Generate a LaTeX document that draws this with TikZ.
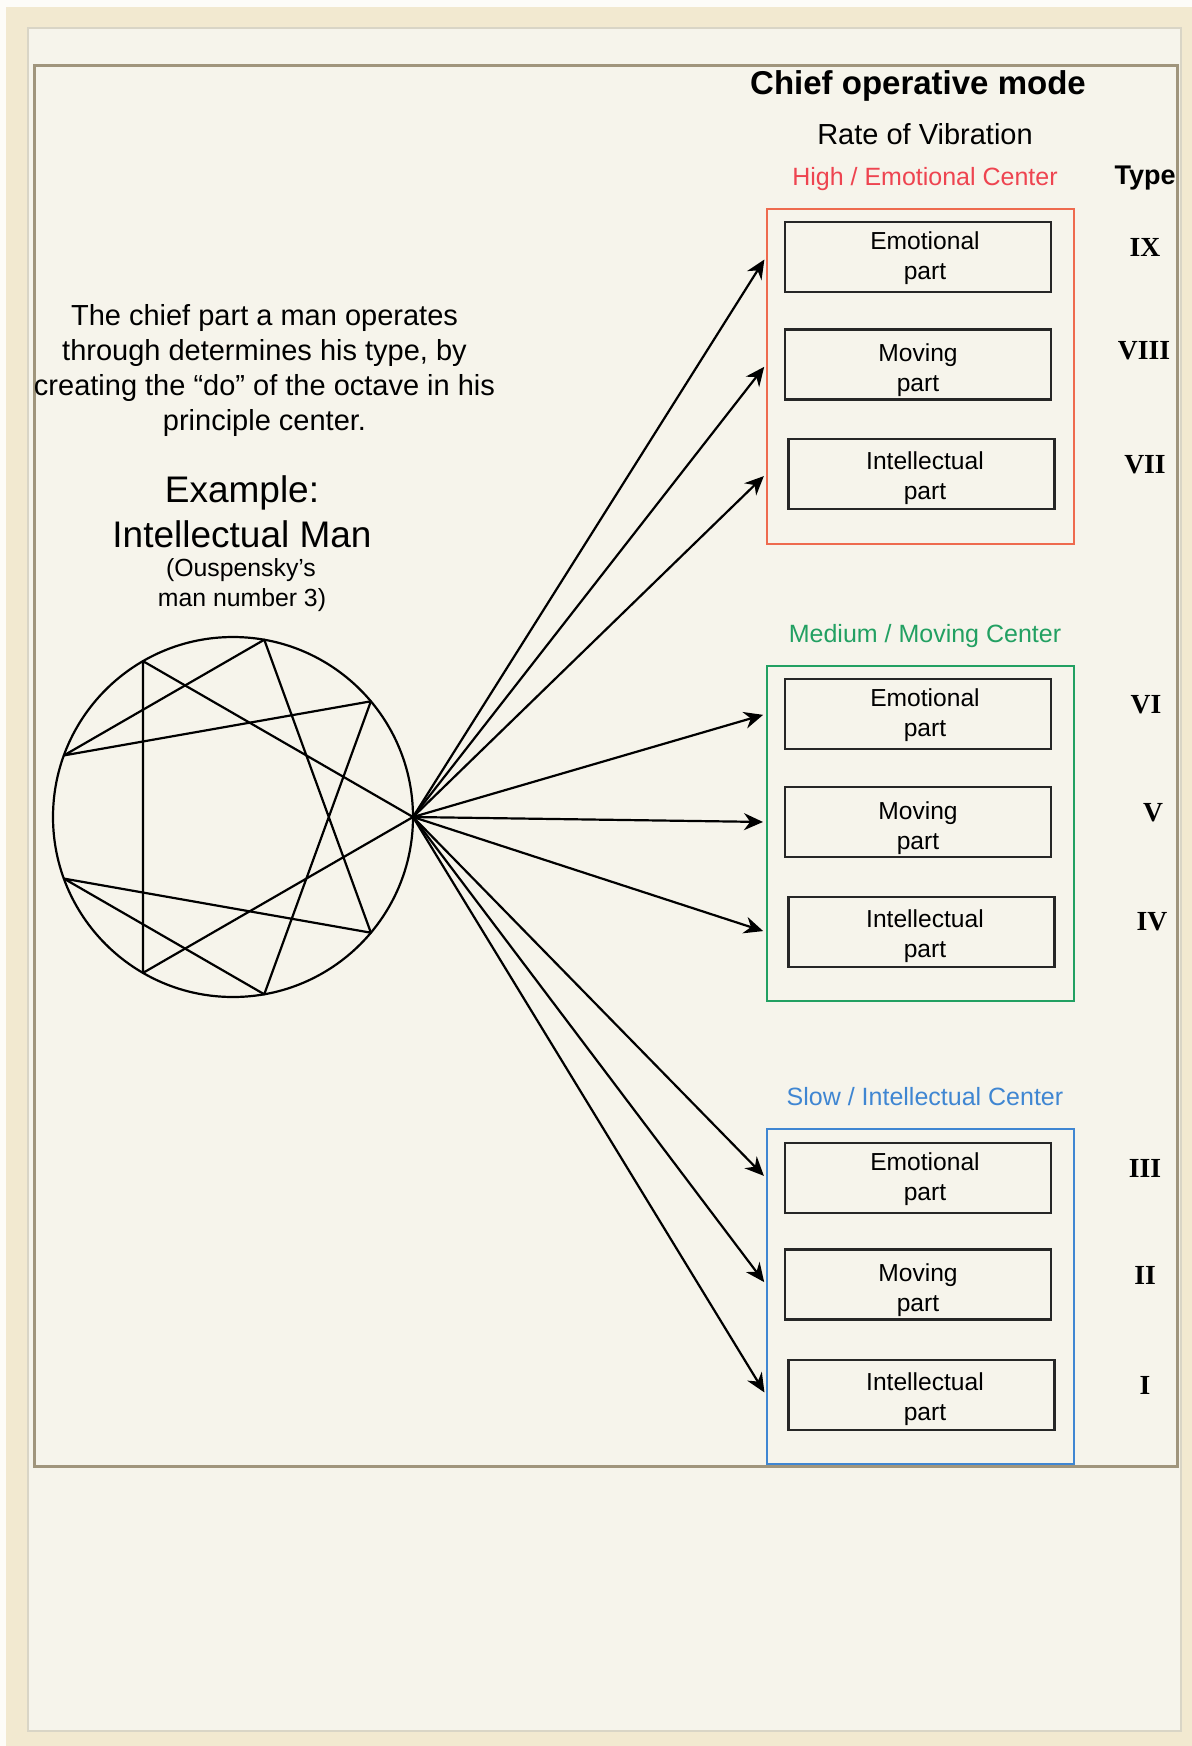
\documentclass[tikz,border=0pt]{standalone}
\usepackage{fontspec}
\setmainfont{Liberation Sans}
\newfontfamily\romanfont{Liberation Serif}
\usetikzlibrary{arrows.meta}
\definecolor{outerwhite}{HTML}{FDFCF8}
\definecolor{cream}{HTML}{F2E9D0}
\definecolor{paper}{HTML}{F6F4EB}
\definecolor{paperedge}{HTML}{D9D5C6}
\definecolor{edgebrown}{HTML}{A0957C}
\definecolor{hired}{HTML}{EE4450}
\definecolor{hiframe}{HTML}{EE6A4E}
\definecolor{medgreen}{HTML}{22A062}
\definecolor{slowblue}{HTML}{3F86D2}
\newcommand{\fsz}[2]{\fontsize{#1}{#2}\selectfont}
\begin{document}
\begin{tikzpicture}[x=0.5pt,y=-0.5pt,
  txt/.style={inner sep=0pt, anchor=base},
  parttxt/.style={inner sep=0pt, align=center, font=\fsz{12.3pt}{15pt}},
  partbox/.style={draw=black!85, line width=1.35pt, minimum width=133pt, minimum height=35pt, inner sep=0pt},
  groupbox/.style={line width=1pt, minimum width=153.5pt, minimum height=167.5pt, inner sep=0pt},
  numeral/.style={inner sep=0pt, font=\romanfont\bfseries\fsz{13.8pt}{16pt}},
  grouplabel/.style={inner sep=0pt, anchor=base, font=\fsz{12.5pt}{15pt}},
  arr/.style={line width=1.1pt, -{Stealth[length=9.5pt,width=8.5pt]}, shorten >=1.5pt},
  ennea/.style={line width=1.1pt}]
\useasboundingbox (0,0) rectangle (1192,1746);
% background
\fill[outerwhite] (0,0) rectangle (1192,1746);
\fill[cream] (6,7) rectangle (1192,1746);
\filldraw[fill=paper, draw=paperedge, line width=0.6pt] (28,28) rectangle (1181,1731);
\draw[edgebrown, line width=1.5pt] (34,65) rectangle (1177,1466);

% headings
\node[txt, font=\bfseries\fsz{16.5pt}{20pt}] (title) at (918,94) {Chief operative mode};
\node[txt, font=\fsz{14.5pt}{17pt}] (rate) at (925,144) {Rate of Vibration};
\node[txt, font=\bfseries\fsz{13.5pt}{16pt}] (type) at (1145,184) {Type};

% left text
\node[txt, font=\fsz{14.5pt}{17pt}] (t1) at (264.5,325) {The chief part a man operates};
\node[txt, font=\fsz{14.5pt}{17pt}] (t2) at (264.5,360) {through determines his type, by};
\node[txt, font=\fsz{14.5pt}{17pt}] (t3) at (264.5,395) {creating the “do” of the octave in his};
\node[txt, font=\fsz{14.5pt}{17pt}] (t4) at (264.5,430) {principle center.};
\node[txt, font=\fsz{18.5pt}{22pt}] (ex1) at (242,502) {Example:};
\node[txt, font=\fsz{18.5pt}{22pt}] (ex2) at (242,547) {Intellectual Man};
\node[txt, font=\fsz{12.4pt}{15pt}] (ou1) at (241,576) {(Ouspensky’s};
\node[txt, font=\fsz{12.4pt}{15pt}] (ou2) at (242,606) {man number 3)};

% enneagram
\node[draw, circle, ennea, minimum size=180pt, inner sep=0pt] (circ) at (233,817) {};
\foreach \k in {0,...,8}
  \coordinate (n\k) at ([shift={(-40*\k:180)}] 233,817);
\draw[ennea, line join=round] (n0) -- (n3) -- (n6) -- cycle;
\draw[ennea, line join=round] (n1) -- (n4) -- (n2) -- (n8) -- (n5) -- (n7) -- cycle;

% group labels
\node[grouplabel, text=hired] (lr) at (925,185) {High / Emotional Center};
\node[grouplabel, text=medgreen] (lg) at (925,642) {Medium / Moving Center};
\node[grouplabel, text=slowblue] (lb) at (925,1105) {Slow / Intellectual Center};

% group frames
\node[groupbox, draw=hiframe] (Fr) at (920.5,376) {};
\node[groupbox, draw=medgreen] (Fg) at (920.5,833.5) {};
\node[groupbox, draw=slowblue] (Fb) at (920.5,1296) {};

% part boxes: high
\node[partbox] (Bre) at (918,257) {};
\node[partbox] (Brm) at (918,364.5) {};
\node[partbox] (Bri) at (921.5,474) {};
% medium
\node[partbox] (Bge) at (918,714) {};
\node[partbox] (Bgm) at (918,822) {};
\node[partbox] (Bgi) at (921.5,932) {};
% slow
\node[partbox] (Bbe) at (918,1178) {};
\node[partbox] (Bbm) at (918,1284.5) {};
\node[partbox] (Bbi) at (921.5,1395) {};

% part texts
\foreach \g in {r,g,b}{
  \node[parttxt] (Tx\g e) at ([yshift=-0.5pt] B\g e.center -| 925,0) {Emotional\\part};
  \node[parttxt] (Tx\g m) at ([yshift=-3pt] B\g m.center) {Moving\\part};
  \node[parttxt] (Tx\g i) at ([yshift=-2pt] B\g i.center -| 925,0) {Intellectual\\part};
}

% numerals
\node[numeral] (IX) at (1145,247) {IX};
\node[numeral] (VIII) at (1144,351) {VIII};
\node[numeral] (VII) at (1145,465) {VII};
\node[numeral] (VI) at (1146,705) {VI};
\node[numeral] (V) at (1153,813) {V};
\node[numeral] (IV) at (1152,922) {IV};
\node[numeral] (III) at (1145,1168) {III};
\node[numeral] (II) at (1145,1275) {II};
\node[numeral] (I) at (1145,1385) {I};

% arrows
\foreach \g in {r,g,b}
  \foreach \p in {e,m,i}
    \draw[arr] (n0) -- (F\g.west |- B\g\p.center);
\end{tikzpicture}
\end{document}
